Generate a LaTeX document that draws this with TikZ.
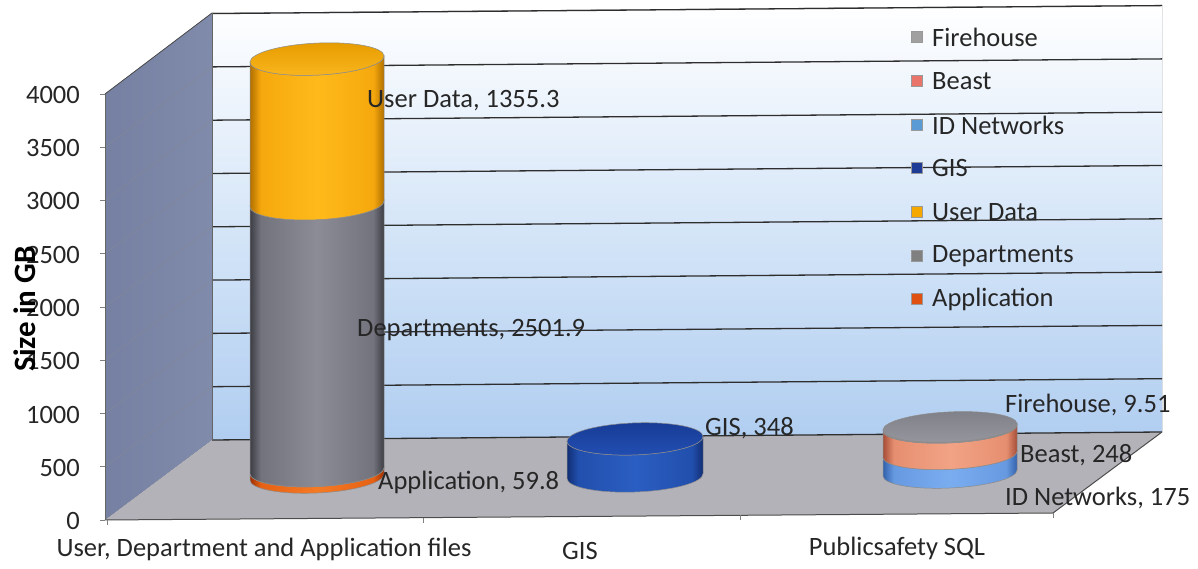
\documentclass[tikz,border=0pt]{standalone}
\usepackage{fontspec}
\setmainfont{Carlito}
\definecolor{wallblue}{RGB}{176,205,240}
\definecolor{wallmid}{RGB}{214,230,248}
\definecolor{leftA}{RGB}{118,128,162}
\definecolor{leftB}{RGB}{128,138,170}
\definecolor{floorc}{RGB}{178,178,184}
\definecolor{udT}{RGB}{230,156,0}
\definecolor{udB}{RGB}{250,182,30}
\definecolor{gisT}{RGB}{24,60,150}
\definecolor{gisB}{RGB}{34,78,178}
\definecolor{fM}{RGB}{150,150,158}
\definecolor{fT}{RGB}{128,128,136}
\definecolor{lgFire}{RGB}{160,160,160}
\definecolor{lgBeast}{RGB}{232,116,106}
\definecolor{lgID}{RGB}{91,155,213}
\definecolor{lgGIS}{RGB}{30,60,150}
\definecolor{lgUD}{RGB}{245,168,0}
\definecolor{lgDep}{RGB}{128,128,128}
\definecolor{lgApp}{RGB}{224,80,16}
\definecolor{appE}{RGB}{158,46,0}\definecolor{appA}{RGB}{230,97,20}\definecolor{appC}{RGB}{245,122,36}
\definecolor{depE}{RGB}{61,61,69}\definecolor{depA}{RGB}{115,115,125}\definecolor{depC}{RGB}{140,140,150}
\definecolor{udE}{RGB}{178,112,0}\definecolor{udA}{RGB}{245,168,13}\definecolor{udC}{RGB}{255,186,26}
\definecolor{gisE}{RGB}{18,46,115}\definecolor{gisA}{RGB}{33,79,173}\definecolor{gisC}{RGB}{43,94,194}
\definecolor{idE}{RGB}{51,97,173}\definecolor{idA}{RGB}{102,153,224}\definecolor{idC}{RGB}{122,173,240}
\definecolor{bE}{RGB}{166,77,56}\definecolor{bA}{RGB}{230,143,112}\definecolor{bC}{RGB}{242,163,133}
\definecolor{fE}{RGB}{102,102,110}\definecolor{fA}{RGB}{140,140,148}\definecolor{fC}{RGB}{153,153,161}
\pgfdeclarehorizontalshading{shApp}{100bp}{color(0bp)=(appE); color(25bp)=(appE); color(29bp)=(appA); color(50bp)=(appC); color(71bp)=(appA); color(75bp)=(appE); color(100bp)=(appE)}
\pgfdeclarehorizontalshading{shDep}{100bp}{color(0bp)=(depE); color(25bp)=(depE); color(29bp)=(depA); color(50bp)=(depC); color(71bp)=(depA); color(75bp)=(depE); color(100bp)=(depE)}
\pgfdeclarehorizontalshading{shUD}{100bp}{color(0bp)=(udE); color(25bp)=(udE); color(29bp)=(udA); color(50bp)=(udC); color(71bp)=(udA); color(75bp)=(udE); color(100bp)=(udE)}
\pgfdeclarehorizontalshading{shGIS}{100bp}{color(0bp)=(gisE); color(25bp)=(gisE); color(29bp)=(gisA); color(50bp)=(gisC); color(71bp)=(gisA); color(75bp)=(gisE); color(100bp)=(gisE)}
\pgfdeclarehorizontalshading{shID}{100bp}{color(0bp)=(idE); color(25bp)=(idE); color(29bp)=(idA); color(50bp)=(idC); color(71bp)=(idA); color(75bp)=(idE); color(100bp)=(idE)}
\pgfdeclarehorizontalshading{shBeast}{100bp}{color(0bp)=(bE); color(25bp)=(bE); color(29bp)=(bA); color(50bp)=(bC); color(71bp)=(bA); color(75bp)=(bE); color(100bp)=(bE)}
\pgfdeclarehorizontalshading{shFire}{100bp}{color(0bp)=(fE); color(25bp)=(fE); color(29bp)=(fA); color(50bp)=(fC); color(71bp)=(fA); color(75bp)=(fE); color(100bp)=(fE)}
\newcommand\cylside[5]{%
  \path[shading=#5, draw=black!45, line width=0.5pt]
    (-#1,#3) arc[start angle=180,end angle=360,x radius=#1,y radius=#2]
    -- (#1,#4) arc[start angle=0,end angle=-180,x radius=#1,y radius=#2] -- cycle;}
\begin{document}
\begin{tikzpicture}[x=1pt,y=1pt,
  lbl/.style={font=\fontsize{26.5}{31}\selectfont, inner sep=0pt, text=black!85},
  gridln/.style={draw=black!82, line width=1.3pt},
  wallgrid/.style={draw=black!45, line width=0.5pt, opacity=0.5},
  legsq/.style={minimum size=11pt, inner sep=0pt, draw=black!40, line width=0.3pt},
  tickln/.style={draw=black!50, line width=0.6pt}]
\useasboundingbox (0,0) rectangle (1198,569);
% back wall
\fill[top color=white, bottom color=wallblue, middle color=wallmid]
  (212,129) -- (212,556) -- (1162,564) -- (1162,137) -- cycle;
% left wall
\fill[left color=leftA, right color=leftB]
  (105,49) -- (105,475) -- (212,556) -- (212,129) -- cycle;
% floor
\fill[floorc] (105,49) -- (212,129) -- (1162,137) -- (1053,56) -- cycle;
% left wall grid lines
\foreach \k in {1,...,7} \draw[wallgrid] (105,{49+53.25*\k}) -- (212,{129+53.3*\k});
% back wall grid lines
\foreach \k in {0,...,8} \draw[gridln] (212,{129+53.3*\k}) -- (1162,{137+53.3*\k});
\draw[draw=black!70, line width=0.8pt] (105,475) -- (212,556);
\draw[draw=black!60, line width=0.6pt] (212,129) -- (212,556);
\draw[draw=black!70, line width=1pt] (105,49) -- (1053,56) -- (1162,137);
\draw[draw=black!60, line width=0.8pt] (105,49) -- (105,475);
% y ticks and labels
\foreach \k/\t in {0/0,1/500,2/1000,3/1500,4/2000,5/2500,6/3000,7/3500,8/4000} {
  \draw[tickln] (100,{49+53.25*\k}) -- (105,{49+53.25*\k});
  \node[lbl, anchor=east] (yt\k) at (80,{48+53.25*\k}) {\t};
}
% x ticks
\draw[tickln] (107,49) -- (107,44);
\draw[tickln] (423,51.3) -- (423,46.3);
\draw[tickln] (740,53.7) -- (740,48.7);
\draw[tickln] (1053,56) -- (1053,51);
% y-axis title
\node[lbl, font=\fontsize{31}{36}\selectfont\bfseries, rotate=90, text=black] (ytitle) at (25,260) {Size in GB};
% cylinder 1
\begin{scope}[shift={(317,0)}, yslant=0.045]
  \cylside{67}{16}{92}{98.4}{shApp}
  \cylside{67}{16}{98.4}{365.3}{shDep}
  \cylside{67}{16}{365.3}{509.9}{shUD}
  \path[top color=udT, bottom color=udB, draw=black!45, line width=0.5pt]
    (0,509.9) ellipse[x radius=67, y radius=16];
\end{scope}
% cylinder 2
\begin{scope}[shift={(635,0)}, yslant=0.035]
  \cylside{68}{16}{93}{130.1}{shGIS}
  \path[top color=gisT, bottom color=gisB, draw=black!45, line width=0.5pt]
    (0,130.1) ellipse[x radius=68, y radius=16];
\end{scope}
% cylinder 3
\begin{scope}[shift={(950,0)}, yslant=0.045]
  \cylside{67}{15}{96}{114.7}{shID}
  \cylside{67}{15}{114.7}{141.1}{shBeast}
  \cylside{67}{15}{141.1}{142.1}{shFire}
  \path[top color=fT, bottom color=fM, draw=black!45, line width=0.5pt]
    (0,142.1) ellipse[x radius=67, y radius=15];
\end{scope}
% data labels
\node[lbl, anchor=west] (lud) at (367,468) {User Data, 1355.3};
\node[lbl, anchor=west] (ldep) at (357,239) {Departments, 2501.9};
\node[lbl, anchor=west] (lapp) at (378,87) {Application, 59.8};
\node[lbl, anchor=west] (lgis) at (705,141) {GIS, 348};
\node[lbl, anchor=west] (lfire) at (1005,164) {Firehouse, 9.51};
\node[lbl, anchor=west] (lbeast) at (1020,114) {Beast, 248};
\node[lbl, anchor=west] (lidn) at (1005,71) {ID Networks, 175};
% category labels
\node[lbl] (c1) at (264,20) {User, Department and Application files};
\node[lbl] (c2) at (580,18) {GIS};
\node[lbl] (c3) at (897,21) {Publicsafety SQL};
% legend
\foreach \n/\y/\c/\t in {
  a/532/lgFire/Firehouse,
  b/488/lgBeast/Beast,
  c/444/lgID/ID Networks,
  d/401/lgGIS/GIS,
  e/357/lgUD/User Data,
  f/313/lgDep/Departments,
  g/270/lgApp/Application} {
  \node[legsq, fill=\c] (sq\n) at (917,\y) {};
  \node[lbl, anchor=west] (lt\n) at (932,\y) {\t};
}
\end{tikzpicture}
\end{document}
